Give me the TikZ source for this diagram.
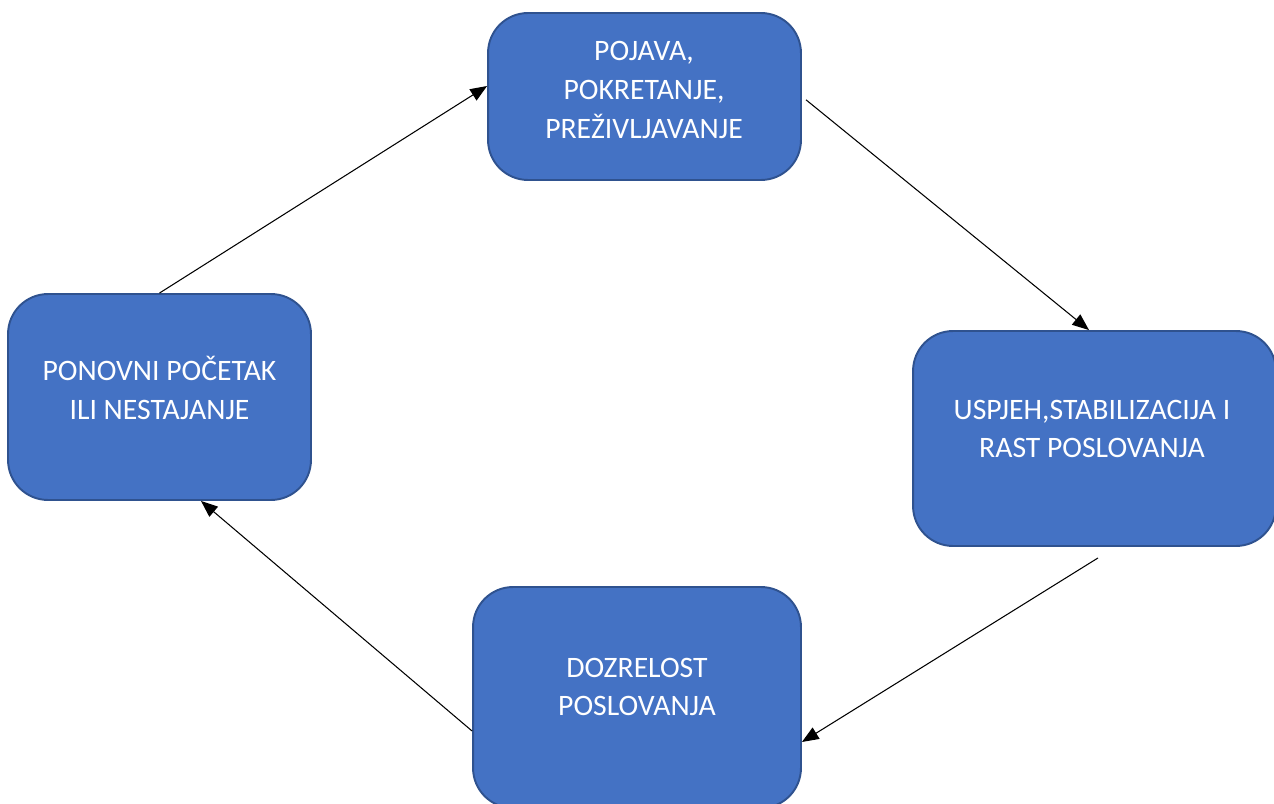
\documentclass[tikz,border=0pt]{standalone}
\usepackage{fontspec}
\setmainfont{Carlito}
\usetikzlibrary{arrows.meta}
\definecolor{boxfill}{HTML}{4472C4}
\definecolor{boxline}{HTML}{2F528F}
\begin{document}
\begin{tikzpicture}
		[x=0.02cm, y=-0.02cm,
		phase/.style={rectangle, rounded corners=0.8cm, fill=boxfill, draw=boxline, line width=1.1pt, inner sep=0pt},
		phasetext/.style={text=white, align=center, inner sep=0pt, font=\fontsize{16.9}{22}\selectfont},
		flow/.style={line width=0.6pt, color=black, -{Triangle[length=9.5pt,width=7.5pt]}}]
		\useasboundingbox (0,0) rectangle (1274,804);
		\node (b1) [phase, minimum width=6.26cm, minimum height=3.34cm] at (644.5, 96.5) {};
		\node (b2) [phase, minimum width=7.26cm, minimum height=4.3cm] at (1094.5, 438.5) {};
		\node (b3) [phase, minimum width=6.56cm, minimum height=4.42cm] at (637, 697.5) {};
		\node (b4) [phase, minimum width=6.06cm, minimum height=4.12cm] at (159.5, 397) {};
		\node (t1) [phasetext] at (644, 90) {POJAVA,\\POKRETANJE,\\PREŽIVLJAVANJE};
		\node (t2) [phasetext] at (1092, 429) {USPJEH,STABILIZACIJA I\\RAST POSLOVANJA};
		\node (t3) [phasetext] at (637, 687) {DOZRELOST\\POSLOVANJA};
		\node (t4) [phasetext] at (159.5, 388) {PONOVNI POČETAK\\ILI NESTAJANJE};
		\draw [flow] (b4.north) to ([yshift=0.21cm]b1.west);
		\draw [flow, shorten <=3pt] (b1.east) to ([xshift=-0.11cm]b2.north);
		\draw [flow] ([shift={(3.5,11)}]b2.south) to ([yshift=-0.89cm]b3.east);
		\draw [flow] ([yshift=-0.67cm]b3.west) to ([xshift=0.83cm]b4.south);
\end{tikzpicture}
\end{document}
